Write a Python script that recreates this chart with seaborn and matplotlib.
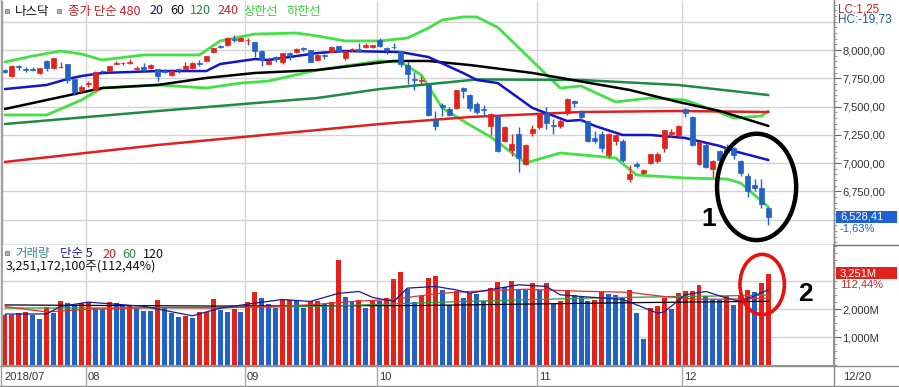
import numpy as np
import pandas as pd
import matplotlib
matplotlib.use('Agg')
import matplotlib.pyplot as plt
import seaborn as sns
from matplotlib.patches import Ellipse, Rectangle
from matplotlib.ticker import FixedLocator, MultipleLocator, FuncFormatter

# ---------------- data (NASDAQ daily, 2018-07-16 .. 2018-12-20) ----------------
opens = [7827, 7770, 7862, 7834, 7828, 7795, 7905, 7845, 7848, 7880,
         7740, 7648, 7700, 7650, 7818, 7815, 7877, 7882, 7885, 7835,
         7850, 7838, 7830, 7815, 7775, 7830, 7830, 7840, 7885, 7905,
         7985, 8035, 8040, 8095, 8082, 8085, 8075, 7993, 7880, 7935,
         7890, 7975, 7985, 8018, 8000, 7910, 7960, 7985, 8035, 7930,
         8000, 8011, 8025, 8030, 8090, 8020, 8030, 7990, 7870, 7745,
         7730, 7690, 7380, 7515, 7475, 7490, 7665, 7600, 7520, 7480,
         7330, 7420, 7200, 7120, 7260, 6995, 7270, 7320, 7440, 7340,
         7325, 7440, 7550, 7460, 7370, 7225, 7260, 7075, 7200, 7200,
         6860, 6990, 6915, 7005, 7020, 7135, 7262, 7250, 7480, 7410,
         6990, 7165, 6950, 7110, 7135, 7130, 7020, 6890, 6810, 6780, 6600]
highs = [7833, 7866, 7866, 7849, 7846, 7843, 7914, 7933, 7890, 7880,
         7745, 7690, 7730, 7812, 7825, 7862, 7905, 7898, 7917, 7858,
         7885, 7877, 7830, 7834, 7831, 7840, 7892, 7897, 7912, 7947,
         8022, 8040, 8112, 8133, 8112, 8103, 8075, 7998, 7934, 7944,
         7975, 7985, 8020, 8030, 8003, 7973, 7965, 8035, 8037, 8000,
         8020, 8063, 8061, 8048, 8110, 8030, 8060, 7995, 7890, 7810,
         7770, 7700, 7460, 7530, 7500, 7645, 7677, 7610, 7540, 7510,
         7440, 7430, 7330, 7260, 7320, 7170, 7340, 7440, 7500, 7390,
         7390, 7572, 7560, 7470, 7375, 7280, 7280, 7265, 7260, 7210,
         6985, 7010, 6945, 7085, 7100, 7292, 7300, 7335, 7490, 7420,
         7190, 7175, 7030, 7120, 7170, 7140, 7030, 6915, 6860, 6860, 6610]
lows = [7794, 7763, 7826, 7810, 7812, 7786, 7818, 7836, 7840, 7712,
        7600, 7620, 7670, 7645, 7785, 7803, 7872, 7867, 7880, 7813,
        7815, 7829, 7727, 7797, 7770, 7795, 7825, 7832, 7862, 7900,
        7975, 8015, 8035, 8072, 8080, 8046, 7935, 7863, 7872, 7898,
        7880, 7915, 7975, 7990, 7890, 7900, 7920, 7980, 7985, 7912,
        7990, 7980, 8015, 8020, 8030, 7965, 8010, 7850, 7700, 7650,
        7690, 7415, 7292, 7420, 7420, 7480, 7573, 7460, 7435, 7420,
        7250, 7100, 7190, 7060, 6923, 6980, 7240, 7300, 7300, 7260,
        7310, 7430, 7500, 7360, 7187, 7180, 7100, 7050, 7165, 7010,
        6830, 6960, 6905, 6990, 7005, 7100, 7230, 7230, 7410, 7150,
        6980, 6955, 6880, 6990, 7095, 7040, 6890, 6700, 6750, 6600, 6450]
closes = [7805, 7855, 7854, 7825, 7820, 7841, 7840, 7932, 7852, 7737,
          7630, 7672, 7707, 7802, 7812, 7860, 7883, 7888, 7891, 7839,
          7819, 7870, 7774, 7806, 7816, 7821, 7859, 7889, 7878, 7945,
          8018, 8030, 8109, 8088, 8109, 8091, 7995, 7922, 7902, 7924,
          7972, 7954, 8013, 8010, 7896, 7956, 7950, 8028, 7987, 7993,
          8007, 7990, 8042, 8046, 8037, 7999, 8025, 7879, 7788, 7736,
          7738, 7422, 7329, 7497, 7430, 7645, 7642, 7485, 7449, 7468,
          7437, 7108, 7318, 7167, 7050, 7161, 7306, 7434, 7357, 7328,
          7375, 7570, 7530, 7407, 7200, 7200, 7136, 7259, 7247, 7028,
          6908, 6972, 6939, 7082, 7082, 7292, 7273, 7331, 7441, 7158,
          7188, 6969, 7020, 7031, 7098, 7070, 6910, 6753, 6784, 6637, 6528.41]

volume_m = [1786, 1790, 1857, 1893, 1786, 1655, 2071, 1857, 2298, 2214,
            2095, 2214, 2250, 2036, 2020, 2250, 2214, 2131, 2140, 2036,
            1940, 1930, 2333, 2036, 1857, 1726, 1738, 1679, 1893, 1900,
            2369, 1976, 1893, 2012, 1893, 2250, 2607, 2393, 2179, 2036,
            2333, 2340, 2298, 2036, 2274, 2298, 2179, 2250, 3738, 2417,
            2298, 2333, 2036, 2333, 2274, 2393, 3083, 3321, 2714, 2250,
            2452, 3107, 3179, 2667, 2155, 2631, 2393, 2571, 2536, 2274,
            2750, 2964, 2798, 2988, 2690, 2680, 2929, 2690, 2929, 2179,
            2274, 2679, 2512, 2417, 2274, 2333, 2595, 2536, 2512, 2393,
            2690, 1857, 940, 2036, 2095, 2393, 2000, 2571, 2655, 2660,
            2869, 2476, 2357, 2333, 2452, 2155, 2452, 2690, 2607, 2929, 3251]
vol_colors = ("RRRRBBRBRB" "BRRBBRBBRB" "BBRBBBRBRR" "RBBRBRRBBB" "RRBBRRBRRB"
              "BRBRBRRRBB" "RRRBBRBRBB" "RRBRBBRBRB" "RRBBBRRBBB" "RBBRRRBRRR"
              "RBBBRBRRBRR")

# moving averages / bands (index, value)
ma20_idx = [0, 6, 9, 11, 14, 22, 29, 31, 36, 38, 45, 49, 57, 61, 66, 68, 71, 76, 81, 83, 85, 89, 93, 98, 103, 105, 110]
ma20_val = [7655, 7691, 7744, 7770, 7797, 7814, 7814, 7876, 7920, 7912, 7973, 7991, 7982, 7938, 7797, 7735,
            7708, 7488, 7373, 7382, 7329, 7249, 7249, 7223, 7152, 7108, 7028]
ma60_idx = [0, 6, 14, 22, 29, 36, 45, 51, 56, 61, 67, 76, 90, 97, 103, 110]
ma60_val = [7479, 7558, 7664, 7691, 7753, 7797, 7823, 7867, 7903, 7903, 7867, 7797, 7647, 7541, 7461, 7329]
ma120_idx = [0, 22, 45, 54, 68, 83, 97, 110]
ma120_val = [7346, 7461, 7576, 7655, 7740, 7735, 7691, 7602]
ma240_idx = [0, 22, 45, 54, 67, 83, 97, 110]
ma240_val = [7011, 7161, 7293, 7346, 7408, 7452, 7461, 7452]
upper_idx = [0, 4, 8, 11, 14, 20, 22, 28, 31, 36, 42, 45, 49, 54, 58, 61, 63, 66, 68, 71, 76, 80, 83, 88, 93, 98, 102, 105, 109, 110]
upper_val = [7894, 7947, 7991, 7965, 7912, 7956, 7956, 7956, 8080, 8141, 8150, 8124, 8080, 8080, 8106, 8194,
             8265, 8292, 8292, 8200, 7903, 7664, 7682, 7541, 7576, 7558, 7470, 7399, 7417, 7461]
lower_idx = [0, 6, 11, 14, 22, 29, 34, 38, 45, 54, 57, 60, 63, 67, 70, 75, 80, 88, 91, 98, 104, 106, 110]
lower_val = [7426, 7426, 7558, 7664, 7691, 7664, 7708, 7726, 7823, 7903, 7894, 7779, 7488, 7337, 7231, 7002,
             7090, 7046, 6896, 6869, 6860, 6825, 6613]

vma5_idx = [0, 6, 8, 12, 20, 27, 31, 36, 40, 44, 48, 51, 53, 56, 58, 62, 65, 67, 74, 78, 80, 83, 89, 91, 94, 95, 98, 101, 104, 106, 110]
vma5_val = [1821, 1830, 2095, 2250, 2100, 1762, 2036, 2214, 2345, 2274, 2560, 2631, 2417, 2274, 2750, 2810,
            2690, 2571, 2869, 2810, 2512, 2452, 2345, 2155, 1857, 1900, 2512, 2631, 2393, 2274, 2690]
vma20_idx = [0, 6, 12, 22, 30, 40, 44, 50, 56, 62, 67, 75, 83, 90, 95, 100, 105, 110]
vma20_val = [2095, 1900, 2000, 2060, 2040, 2110, 2155, 2274, 2350, 2550, 2631, 2711, 2640, 2600, 2450, 2350, 2360, 2390]
vma60_idx = [0, 30, 45, 66, 85, 110]
vma60_val = [2040, 2050, 2095, 2274, 2400, 2500]
vma120_idx = [0, 30, 60, 90, 110]
vma120_val = [2150, 2110, 2130, 2230, 2280]

month_idx = [12, 35, 54, 77, 98]
month_labels = ['08', '09', '10', '11', '12']
first_label = '2018/07'
last_label = '12/20'

# ---------------- style ----------------
sns.set_theme(style='white')
KR = ['Noto Sans CJK KR', 'DejaVu Sans']
NUM = ['Liberation Sans', 'DejaVu Sans']
plt.rcParams['font.family'] = KR

RED = '#E3231B'
BLUE = '#2262C6'
GRID = '#D4D4D4'
FRAME = '#8C8C8C'

W, H = 899, 387
fig = plt.figure(figsize=(W / 100, H / 100), dpi=100)
fig.patch.set_facecolor('white')


def fx(x):
    return x / W


def fy(y):
    return 1 - y / H


AX_L, AX_R = 2, 834
ax = fig.add_axes([fx(AX_L), fy(245), (AX_R - AX_L) / W, 244 / H])
axv = fig.add_axes([fx(AX_L), fy(366), (AX_R - AX_L) / W, 121 / H])

n = len(closes)
idx = np.arange(n)
XL = ((AX_L - 5) / 6.94, (AX_R - 5) / 6.94)

# ---------------- price panel ----------------
ax.set_xlim(*XL)
ax.set_ylim(6277, 8433)
for g in np.arange(6500, 8300, 250):
    ax.axhline(g, color=GRID, lw=1, zorder=0)
for m in month_idx:
    ax.axvline(m - 0.4, color=GRID, lw=1, zorder=0)
    axv.axvline(m - 0.4, color=GRID, lw=1, zorder=0)

o = np.array(opens, float)
c = np.array(closes, float)
h = np.array(highs, float)
l = np.array(lows, float)
up = c >= o
cols = np.where(up, RED, BLUE)
ax.vlines(idx, l, h, colors=cols, lw=1, zorder=3)
bot = np.minimum(o, c)
hgt = np.maximum(np.abs(c - o), 5)
ax.bar(idx, hgt, bottom=bot, width=0.72, color=cols, edgecolor=cols, lw=0.5, zorder=4)

line_specs = [
    (upper_idx, upper_val, '#44E044', 2.0),
    (lower_idx, lower_val, '#44E044', 2.0),
    (ma240_idx, ma240_val, '#E02020', 1.8),
    (ma120_idx, ma120_val, '#1F8A44', 1.8),
    (ma60_idx, ma60_val, '#000000', 1.8),
    (ma20_idx, ma20_val, '#1414C8', 1.8),
]
for xi, yv, col, lw in line_specs:
    sns.lineplot(x=xi, y=yv, color=col, lw=lw, ax=ax, estimator=None, sort=False, zorder=2)

ax.spines['top'].set_visible(False)
ax.spines['left'].set_color('#A0A0A0')
ax.spines['right'].set_color(FRAME)
ax.spines['bottom'].set_color('#707070')
for s in ['left', 'right', 'bottom']:
    ax.spines[s].set_linewidth(1)
ax.set_xticks([])
ax.yaxis.tick_right()
ax.yaxis.set_major_locator(FixedLocator([6750, 7000, 7250, 7500, 7750, 8000]))
ax.yaxis.set_minor_locator(MultipleLocator(50))
ax.yaxis.set_major_formatter(FuncFormatter(lambda v, p: f"{v:,.0f},00"))
ax.tick_params(axis='y', which='major', direction='out', length=5, width=0.8, color='#666666',
               labelsize=8, labelcolor='#333333', pad=1)
ax.tick_params(axis='y', which='minor', direction='out', length=2, width=0.6, color='#888888')
for t in ax.get_yticklabels():
    t.set_fontfamily(NUM)
ax.set_xlabel('')
ax.set_ylabel('')

# annotation 1
ax.add_patch(Ellipse((108.3, 6790), 11.4, 940, fill=False, edgecolor='black', lw=3.2, zorder=6, clip_on=False))
ax.text(101.4, 6505, '1', fontsize=19, fontweight='bold', color='black', ha='center', va='center',
        family=['Liberation Sans', 'DejaVu Sans'], zorder=7)

# ---------------- volume panel ----------------
vdf = pd.DataFrame({'i': idx, 'vol': volume_m, 'c': list(vol_colors)})
sns.barplot(data=vdf, x='i', y='vol', hue='c', palette={'R': RED, 'B': BLUE}, dodge=False,
            width=0.72, native_scale=True, legend=False, errorbar=None, saturation=1,
            linewidth=0, edgecolor='none', ax=axv, zorder=3)
vspecs = [
    (vma120_idx, vma120_val, '#000000'),
    (vma60_idx, vma60_val, '#2E9A3A'),
    (vma20_idx, vma20_val, '#E03030'),
    (vma5_idx, vma5_val, '#1A1A90'),
]
for xi, yv, col in vspecs:
    sns.lineplot(x=xi, y=yv, color=col, lw=0.9, ax=axv, estimator=None, sort=False, zorder=5)
axv.set_xlim(*XL)
axv.set_ylim(-30, 4290)
for g in [1000, 2000, 3000]:
    axv.axhline(g, color=GRID, lw=1, zorder=0)
axv.spines['top'].set_visible(False)
axv.spines['left'].set_color('#A0A0A0')
axv.spines['right'].set_color(FRAME)
axv.spines['bottom'].set_color(FRAME)
axv.set_xticks([])
axv.set_xlabel('')
axv.set_ylabel('')
axv.yaxis.tick_right()
axv.yaxis.set_major_locator(FixedLocator([1000, 2000]))
axv.yaxis.set_minor_locator(MultipleLocator(250))
axv.yaxis.set_major_formatter(FuncFormatter(lambda v, p: f"{v:,.0f}M"))
axv.tick_params(axis='y', which='major', direction='out', length=5, width=0.8, color='#666666',
                labelsize=8, labelcolor='#333333', pad=1)
axv.tick_params(axis='y', which='minor', direction='out', length=2, width=0.6, color='#888888')
for t in axv.get_yticklabels():
    t.set_fontfamily(NUM)

axv.add_patch(Ellipse((109.1, 2880), 6.4, 2150, fill=False, edgecolor='#E81010', lw=2.6, zorder=6, clip_on=False))
fig.text(fx(805), fy(294), '2', fontsize=19, fontweight='bold', color='black', ha='center', va='center',
         family=['Liberation Sans', 'DejaVu Sans'])


# ---------------- frame lines / x-axis strip ----------------
def hline(y, x0, x1, col, lw=1):
    fig.add_artist(plt.Line2D([fx(x0), fx(x1)], [fy(y), fy(y)], color=col, lw=lw))


def vline(x, y0, y1, col, lw=1):
    fig.add_artist(plt.Line2D([fx(x), fx(x)], [fy(y0), fy(y1)], color=col, lw=lw))


vline(AX_R, 0, 386, FRAME)
hline(245, AX_R, W, '#707070')
hline(366, 0, W, FRAME)
hline(386, 0, W, FRAME)
vline(1, 0, 386, '#A0A0A0')
for m, lab in zip(month_idx, month_labels):
    xp = 5 + 6.94 * (m - 0.4)
    vline(xp, 366, 386, '#A8A8A8')
    fig.text(fx(xp + 2), fy(377), lab, fontsize=8, color='#333333', ha='left', va='center', family=NUM)
fig.text(fx(4), fy(377), first_label, fontsize=8, color='#333333', ha='left', va='center', family=NUM)
fig.text(fx(843), fy(377), last_label, fontsize=8, color='#333333', ha='left', va='center', family=NUM)


# ---------------- legends / labels ----------------
def sq(x, y):
    fig.add_artist(Rectangle((fx(x), fy(y + 4)), 4 / W, 4 / H, facecolor='#B0B0B0', edgecolor='#808080', lw=0.6))


sq(5, 9)
sq(57, 9)
legend_items = [
    (15, '나스닥', '#111111'),
    (68, '종가 단순 480', '#C81E1E'),
    (149, '20', '#10107A'),
    (170, '60', '#111111'),
    (190, '120', '#1F8A44'),
    (217, '240', '#C81E1E'),
    (243, '상한선', '#3CD23C'),
    (286, '하한선', '#3CD23C'),
]
for x, t, col in legend_items:
    fig.text(fx(x), fy(11), t, fontsize=9, color=col, ha='left', va='center', family=KR)

sq(5, 251)
vol_items = [
    (15, '거래량', '#3B8C8C'),
    (60, '단순 5', '#1A1A90'),
    (102, '20', '#D82020'),
    (122, '60', '#2E8A3A'),
    (143, '120', '#111111'),
]
for x, t, col in vol_items:
    fig.text(fx(x), fy(254), t, fontsize=9, color=col, ha='left', va='center', family=KR)
fig.text(fx(6), fy(266), '3,251,172,100주(112,44%)', fontsize=9, color='#111111', ha='left', va='center', family=KR)

# right side info
fig.text(fx(838), fy(9), 'LC:1,25', fontsize=8.5, color='#D02020', ha='left', va='center', family=NUM)
fig.text(fx(838), fy(20), 'HC:-19,73', fontsize=8.5, color='#1E5A8C', ha='left', va='center', family=NUM)
fig.add_artist(Rectangle((fx(836), fy(223)), 61 / W, 12 / H, facecolor='#1E5FD2', edgecolor='none'))
fig.text(fx(840), fy(217), '6,528,41', fontsize=8, color='white', ha='left', va='center', family=NUM)
fig.text(fx(840), fy(228.5), '-1,63%', fontsize=8, color='#1E5FD2', ha='left', va='center', family=NUM)
fig.add_artist(Rectangle((fx(836), fy(279)), 61 / W, 12 / H, facecolor='#E3231B', edgecolor='none'))
fig.text(fx(840), fy(273), '3,251M', fontsize=8, color='white', ha='left', va='center', family=NUM)
fig.text(fx(840), fy(284.5), '112,44%', fontsize=8, color='#D02020', ha='left', va='center', family=NUM)

fig.savefig('out.png', dpi=100, facecolor='white')
